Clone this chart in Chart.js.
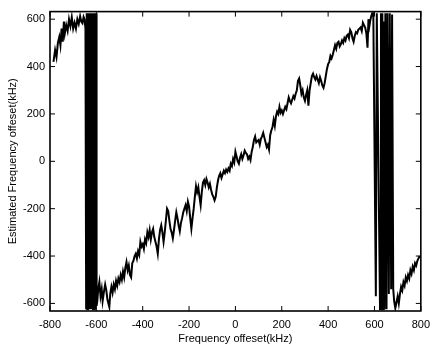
<!DOCTYPE html>
<html lang="en">
  <head>
    <meta charset="utf-8">
    <title>Estimated frequency offset</title>
    <script src="https://cdn.jsdelivr.net/npm/chart.js"></script>
    <style>
      body {
        margin: 0;
        background: #fff;
      }
      #wrap {
        width: 437px;
        height: 348px;
      }
    </style>
  </head>
  <body>
    <div id="wrap"><canvas id="myChart"></canvas></div>

    <script>
      // values (kHz)
      const xTicks = [-800, -600, -400, -200, 0, 200, 400, 600, 800];
      const yTicks = [-600, -400, -200, 0, 200, 400, 600];

      // left wrap-around part
      const leftX = [-785, -778, -772, -766, -760, -755, -750, -745, -740, -736, -730, -724, -718, -712, -706, -700, -694, -688, -682, -676, -670, -665, -660, -655, -651, -647];
      const leftY = [420, 470, 440, 500, 525, 490, 560, 505, 590, 540, 575, 550, 600, 570, 608, 560, 585, 560, 600, 580, 612, 590, 583, 610, 600, 560];

      // dense band near -620 kHz
      const bandLX = [-644, -641.5, -639, -636.5, -634, -631.5, -629, -626.5, -624, -621.5, -619, -616.5, -614, -611.5, -609, -606.5, -604, -601.5, -599];
      const bandLY = [-620, 625, -625, 625, -625, 625, -625, 625, -625, 625, -625, 625, -625, 625, -625, 625, -625, 625, -610];

      // main linear part
      const midX = [-596, -592, -587, -582, -577, -573, -568, -562, -557, -552, -548, -544, -540, -535, -530, -525, -520, -515, -510, -505,
        -500, -495, -490, -485, -480, -475, -470, -465, -460, -455, -450, -445, -440, -435, -430, -425, -420, -415, -410, -405,
        -400, -395, -390, -385, -380, -375, -370, -365, -360, -355, -350, -345, -340, -335, -330, -325, -320, -315, -310, -305,
        -300, -295, -290, -285, -280, -275, -270, -265, -260, -255, -250, -245, -240, -235, -230, -225, -220, -215, -210, -205,
        -200, -195, -190, -185, -180, -175, -170, -165, -160, -155, -150, -145, -140, -135, -130, -125, -120, -115, -110, -105,
        -100, -95, -90, -85, -80, -75, -70, -65, -60, -55, -50, -45, -40, -35, -30, -25, -20, -15, -10, -5,
        0, 5, 10, 15, 20, 25, 30, 35, 40, 45, 50, 55, 60, 65, 70, 75, 80, 85, 90, 95,
        100, 105, 110, 115, 120, 125, 130, 135, 140, 145, 150, 155, 160, 165, 170, 175, 180, 185, 190, 195,
        200, 205, 210, 215, 220, 225, 230, 235, 240, 245, 250, 255, 260, 265, 270, 275, 280, 285, 290, 295,
        300, 305, 310, 315, 320, 325, 330, 335, 340, 345, 350, 355, 360, 365, 370, 375, 380, 385, 390, 395,
        400, 405, 410, 415, 420, 425, 430, 435, 440, 445, 450, 455, 460, 465, 470, 475, 480, 485, 490, 495,
        500, 505, 510, 515, 520, 525, 530, 535, 540, 545, 550, 555, 560, 565, 570, 574, 578, 582, 586, 590];
      const midY = [-590, -540, -510, -570, -540, -590, -555, -520, -545, -585, -600, -615, -560, -530, -555, -520, -540, -505, -525, -495,
        -510, -480, -500, -465, -490, -450, -425, -460, -440, -480, -490, -430, -420, -400, -390, -410, -380, -395, -340, -360,
        -350, -370, -330, -345, -300, -320, -290, -330, -300, -285, -320, -340, -360, -390, -330, -290, -270, -300, -340, -300,
        -250, -200, -210, -250, -285, -300, -325, -290, -250, -215, -240, -270, -295, -260, -240, -215, -200, -185, -210, -170,
        -190, -240, -285, -240, -200, -150, -105, -130, -110, -150, -185, -130, -90, -80, -100, -75, -90, -110, -95, -120,
        -140, -150, -165, -150, -110, -80, -60, -50, -70, -55, -40, -50, -35, -45, -30, -40, -10, -20, 10, -5,
        40, 20, 0, -10, 15, 30, 10, 25, 45, 35, 30, 10, 20, 5, 40, 60, 90, 105, 80, 85,
        90, 70, 95, 105, 120, 100, 80, 60, 70, 50, 110, 130, 145, 175, 150, 190, 210, 200, 230, 205,
        215, 200, 215, 230, 220, 245, 270, 255, 245, 260, 275, 265, 285, 300, 340, 350, 320, 285, 300, 270,
        255, 280, 300, 235, 300, 330, 360, 370, 355, 345, 360, 345, 330, 355, 340, 320, 310, 330, 360, 390,
        410, 420, 445, 435, 450, 470, 490, 475, 500, 505, 485, 495, 510, 500, 520, 510, 530, 535, 520, 555,
        545, 520, 505, 530, 545, 540, 555, 560, 565, 550, 585, 575, 565, 540, 480, 600, 570, 595, 612, 625];

      // separate strokes near +630 kHz
      const bandRX = [595, 606, 610, 624, 628, 631, 634, 637, 640, 643, 647, 652, 656, 662, 666, 672, 676];
      const bandRY = [625, -570, 625, -625, 625, -625, 625, -625, 590, -625, 625, -625, 625, -560, 625, -540, 620];

      // right wrap-around part
      const rightX = [681, 685, 690, 695, 700, 705, 710, 715, 720, 725, 730, 735, 740, 745, 750, 755, 760, 765, 770, 775, 780, 785, 790, 795];
      const rightY = [-540, -590, -620, -595, -570, -600, -560, -530, -545, -510, -525, -490, -505, -480, -495, -460, -475, -445, -460, -430, -440, -420, -410, -400];

      const allX = leftX.concat(bandLX, midX, bandRX, rightX);
      const allY = leftY.concat(bandLY, midY, bandRY, rightY);
      const points = allX.map((v, i) => ({ x: v, y: allY[i] }));

      // frame with inward ticks on all four sides
      const boxTicks = {
        id: 'boxTicks',
        afterDatasetsDraw(chart) {
          const { ctx, chartArea: a, scales: { x, y } } = chart;
          ctx.save();
          ctx.strokeStyle = '#000';
          ctx.lineWidth = 1.6;
          ctx.strokeRect(a.left, a.top, a.right - a.left, a.bottom - a.top);
          ctx.lineWidth = 1;
          ctx.beginPath();
          xTicks.forEach(v => {
            const px = x.getPixelForValue(v);
            ctx.moveTo(px, a.bottom); ctx.lineTo(px, a.bottom - 5);
            ctx.moveTo(px, a.top); ctx.lineTo(px, a.top + 5);
          });
          yTicks.forEach(v => {
            const py = y.getPixelForValue(v);
            ctx.moveTo(a.left, py); ctx.lineTo(a.left + 5, py);
            ctx.moveTo(a.right, py); ctx.lineTo(a.right - 5, py);
          });
          ctx.stroke();
          ctx.restore();
        }
      };

      const font = { family: "'Liberation Sans', Arial, sans-serif", size: 11 };

      const ctx = document.getElementById('myChart').getContext('2d');
      const myChart = new Chart(ctx, {
        type: 'line',
        data: {
          datasets: [{
            data: points,
            borderColor: '#000',
            borderWidth: 2,
            pointRadius: 0,
            tension: 0
          }]
        },
        options: {
          responsive: true,
          maintainAspectRatio: false,
          animation: false,
          layout: { padding: { top: 7, right: 11, left: 0, bottom: 0 } },
          plugins: { legend: { display: false }, tooltip: { enabled: false } },
          scales: {
            x: {
              type: 'linear',
              min: -800,
              max: 800,
              afterBuildTicks: s => { s.ticks = xTicks.map(v => ({ value: v })); },
              afterFit: s => { s.height = 37; },
              grid: { display: false, drawTicks: false },
              border: { display: false },
              ticks: { color: '#000', font: font, padding: 7, maxRotation: 0 },
              title: { display: true, text: 'Frequency offeset(kHz)', color: '#000', font: font, padding: { top: 0, bottom: 2 } }
            },
            y: {
              type: 'linear',
              min: -632,
              max: 632,
              afterBuildTicks: s => { s.ticks = yTicks.map(v => ({ value: v })); },
              afterFit: s => { s.width = 50; },
              grid: { display: false, drawTicks: false },
              border: { display: false },
              ticks: { color: '#000', font: font, padding: 5 },
              title: { display: true, text: 'Estimated Frequency offeset(kHz)', color: '#000', font: font, padding: { top: 6, bottom: 0 } }
            }
          }
        },
        plugins: [boxTicks]
      });
    </script>
  </body>
</html>
